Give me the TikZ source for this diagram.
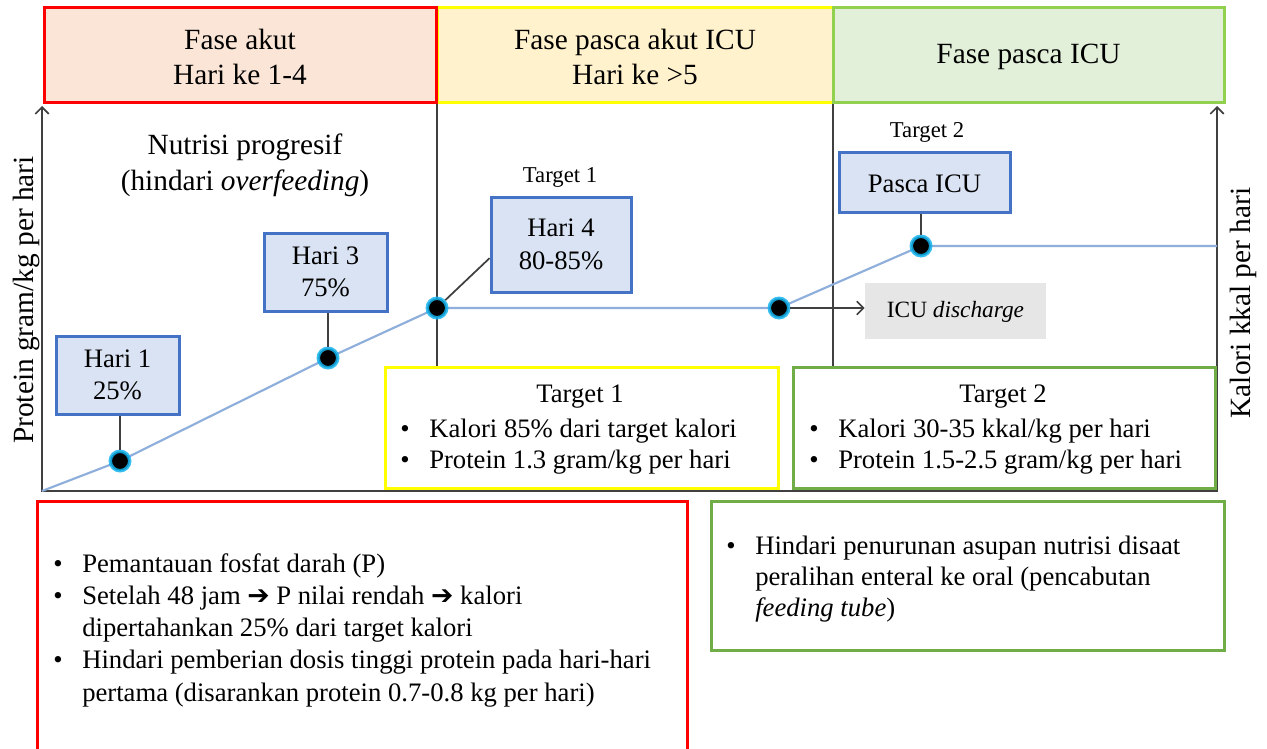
\documentclass[tikz,border=0pt]{standalone}
\usepackage{fontspec}
\setmainfont{Liberation Serif}
\newfontfamily\symfont{DejaVu Sans}
\usetikzlibrary{arrows.meta,fit,calc}

\definecolor{axisgray}{HTML}{404040}
\definecolor{acuteRed}{HTML}{FF0000}
\definecolor{acuteFill}{HTML}{FBE5D6}
\definecolor{postYellow}{HTML}{FFFF00}
\definecolor{postFill}{HTML}{FFF2CC}
\definecolor{icuGreen}{HTML}{92D050}
\definecolor{icuFill}{HTML}{E2F0D9}
\definecolor{noteGreen}{HTML}{70AD47}
\definecolor{dayBlue}{HTML}{4472C4}
\definecolor{dayFill}{HTML}{DAE3F3}
\definecolor{curveBlue}{HTML}{8EAEDB}
\definecolor{glowCyan}{HTML}{14B4F0}
\definecolor{tagGray}{HTML}{E6E6E6}

\newcommand\bul{\makebox[21.75pt][l]{•}}
\newcommand\ind{\hspace*{21.75pt}}
\newcommand\heavyarrow{{\symfont ➔}}

\begin{document}
\begin{tikzpicture}[x=0.75pt,y=-0.75pt,
  axisline/.style={draw=axisgray,line width=1.8pt,line join=miter},
  divider/.style={draw=axisgray,line width=1.5pt},
  conn/.style={draw=axisgray,line width=1.3pt},
  barb/.style={-{Straight Barb[length=5pt,width=10pt,line width=1.3pt]}},
  dataline/.style={draw=curveBlue,line width=1.6pt},
  dotmark/.style={circle,fill=black,draw=glowCyan,draw opacity=0.85,line width=2.6pt,minimum size=14.6pt,inner sep=0pt},
  frame/.style={line width=2.25pt,inner sep=0pt},
  phasetext/.style={inner sep=0pt,align=center,font=\fontsize{22}{26.25}\selectfont},
  daybox/.style={frame,draw=dayBlue,fill=dayFill},
  daytext/.style={inner sep=0pt,align=center,font=\fontsize{20}{24.5}\selectfont},
  notebox/.style={frame,fill=white},
  bodytext/.style={inner sep=0pt,anchor=base west,font=\fontsize{20}{23.6}\selectfont},
  smalltext/.style={inner sep=0pt,font=\fontsize{17}{20}\selectfont},
  axislabel/.style={inner sep=0pt,rotate=90,font=\fontsize{22}{26}\selectfont}]

\clip (0,0) rectangle (1267,749);
\fill[white] (0,0) rectangle (1267,749);

% axes with arrow heads at both vertical ends
\coordinate (o) at (42,491);
\coordinate (ytop) at (42,106);
\coordinate (xend) at (1217,491);
\coordinate (y2top) at (1217,106);
\draw[axisline,{Straight Barb[length=5pt,width=10pt,line width=1.3pt]}-{Straight Barb[length=5pt,width=10pt,line width=1.3pt]}]
  (ytop) -- (o) -- (xend) -- (y2top);

% phase dividers
\coordinate (v1t) at (437,103);
\coordinate (v1b) at (437,491);
\coordinate (v2t) at (833,103);
\coordinate (v2b) at (833,491);
\draw[divider] (v1t) -- (v1b);
\draw[divider] (v2t) -- (v2b);

% nutrition curve
\coordinate (p1) at (120,461);
\coordinate (p2) at (328,358);
\coordinate (p3) at (437,308);
\coordinate (p4) at (779,308);
\coordinate (p5) at (921,246);
\coordinate (curveEnd) at (1217,246);
\draw[dataline] (o) -- (p1) -- (p2) -- (p3) -- (p4) -- (p5) -- (curveEnd);

% phase headers
\node[frame,draw=postYellow,fill=postFill,fit={(437,8) (833,103)}] (hPost) {};
\node[frame,draw=icuGreen,fill=icuFill,fit={(833,8) (1224,103)}] (hIcu) {};
\node[frame,draw=acuteRed,fill=acuteFill,fit={(44,8) (436,103)}] (hAcute) {};
\node[phasetext] (hAcuteText) at ([yshift=-1pt]hAcute.center) {Fase akut\\Hari ke 1-4};
\node[phasetext] (hPostText) at ([yshift=-1pt]hPost.center) {Fase pasca akut ICU\\Hari ke >5};
\node[phasetext] (hIcuText) at ([yshift=-1pt]hIcu.center) {Fase pasca ICU};

% axis labels
\node[axislabel] (yLeft) at (26,300) {Protein gram/kg per hari};
\node[axislabel] (yRight) at (1243,303) {Kalori kkal per hari};

% heading of the acute phase
\node[inner sep=0pt,align=center,font=\fontsize{22}{27}\selectfont] (progresif) at (245,165)
  {Nutrisi progresif\\(hindari \textit{overfeeding})};

% day boxes
\node[daybox,fit={(56,336) (179,414)}] (hari1) {};
\node[daybox,fit={(264,233) (387,311)}] (hari3) {};
\node[daybox,fit={(491,197) (631,292)}] (hari4) {};
\node[daybox,fit={(839,152) (1010,212)}] (pasca) {};
\node[daytext] (hari1Text) at (hari1.center) {Hari 1\\25\%};
\node[daytext] (hari3Text) at (hari3.center) {Hari 3\\75\%};
\node[daytext] (hari4Text) at (hari4.center) {Hari 4\\80-85\%};
\node[daytext] (pascaText) at ([yshift=-1pt]pasca.center) {Pasca ICU};
\node[smalltext] (tgtA) at (560,177) {Target 1};
\node[smalltext] (tgtB) at (927,132) {Target 2};

% discharge tag
\node[fill=tagGray,inner sep=0pt,fit={(865,283) (1046,339)}] (icu) {};
\node[inner sep=0pt,font=\fontsize{17.5}{20}\selectfont] (icuText) at ([yshift=-1pt]icu.center) {ICU \textit{discharge}};

% target boxes
\node[notebox,draw=postYellow,fit={(385,367) (778,488)}] (target1) {};
\node[notebox,draw=noteGreen,fit={(793,367) (1215,488)}] (target2) {};
\node[inner sep=0pt,font=\fontsize{20}{24}\selectfont] (t1title) at (580,397) {Target 1};
\node[inner sep=0pt,font=\fontsize{20}{24}\selectfont] (t2title) at (1003,397) {Target 2};
\node[bodytext] (t1list) at (400,437) {\begin{tabular}[t]{@{}l@{}}
  \bul Kalori 85\% dari target kalori\\
  \bul Protein 1.3 gram/kg per hari
\end{tabular}};
\node[bodytext] (t2list) at (809,437) {\begin{tabular}[t]{@{}l@{}}
  \bul Kalori 30-35 kkal/kg per hari\\
  \bul Protein 1.5-2.5 gram/kg per hari
\end{tabular}};

% notes under the chart
\node[notebox,draw=acuteRed,fit={(37,501) (687,770)}] (noteAcute) {};
\node[notebox,draw=noteGreen,fit={(711,501) (1224,650)}] (notePost) {};
\node[bodytext,font=\fontsize{20}{24.2}\selectfont] (acuteList) at (53,572) {\begin{tabular}[t]{@{}l@{}}
  \bul Pemantauan fosfat darah (P)\\
  \bul Setelah 48 jam \heavyarrow{} P nilai rendah \heavyarrow{} kalori\\
  \ind dipertahankan 25\% dari target kalori\\
  \bul Hindari pemberian dosis tinggi protein pada hari-hari\\
  \ind pertama (disarankan protein 0.7-0.8 kg per hari)
\end{tabular}};
\node[bodytext,font=\fontsize{20}{23.6}\selectfont] (postList) at (726,554) {\begin{tabular}[t]{@{}l@{}}
  \bul Hindari penurunan asupan nutrisi disaat\\
  \ind peralihan enteral ke oral (pencabutan\\
  \ind \textit{feeding tube})
\end{tabular}};

% curve markers
\node[dotmark] (d1) at (p1) {};
\node[dotmark] (d2) at (p2) {};
\node[dotmark] (d3) at (p3) {};
\node[dotmark] (d4) at (p4) {};
\node[dotmark] (d5) at (p5) {};

% callouts from the boxes to the markers
\draw[conn] (hari1.south -| d1) -- (d1);
\draw[conn] (hari3.south -| d2) -- (d2);
\draw[conn] (d3) -- ($(hari4.south west)!0.36!(hari4.north west)$);
\draw[conn] (pasca.south -| d5) -- (d5);
\draw[conn,barb] (d4) -- (icu.west |- d4);
\end{tikzpicture}
\end{document}
